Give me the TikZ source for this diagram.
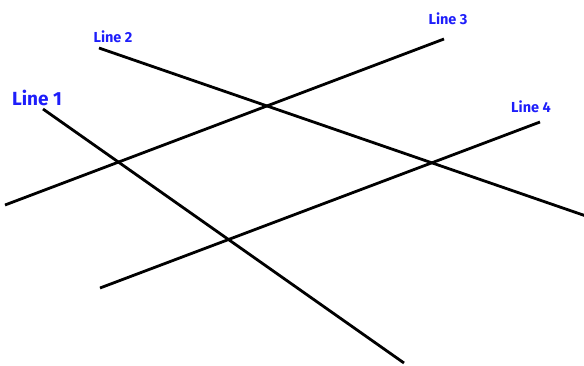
\documentclass[tikz,border=0pt]{standalone}
\usepackage{fontspec}
\setmainfont{Fira Sans}
\definecolor{lblue}{RGB}{30,30,250}
\begin{document}
\begin{tikzpicture}[x=1pt,y=-1pt,
  ln/.style={line width=2.8pt,black},
  lbl/.style={text=lblue,inner sep=0pt,font=\fontsize{14.5}{14.5}\selectfont\bfseries},
  biglbl/.style={lbl,font=\fontsize{19}{19}\selectfont\bfseries}]
\useasboundingbox (0,0) rectangle (584,365);
\coordinate (a1) at (43,109); \coordinate (b1) at (404,363);
\coordinate (a2) at (99,48);  \coordinate (b2) at (586,216);
\coordinate (a3) at (5,205);  \coordinate (b3) at (444,39);
\coordinate (a4) at (100,288); \coordinate (b4) at (540,122);
\draw[ln] (a1) -- (b1);
\draw[ln] (a2) -- (b2);
\draw[ln] (a3) -- (b3);
\draw[ln] (a4) -- (b4);
\node[biglbl] (t1) at (37,98) {Line 1};
\node[lbl] (t2) at (113,37) {Line 2};
\node[lbl] (t3) at (448,19) {Line 3};
\node[lbl] (t4) at (531,107) {Line 4};
\end{tikzpicture}
\end{document}
